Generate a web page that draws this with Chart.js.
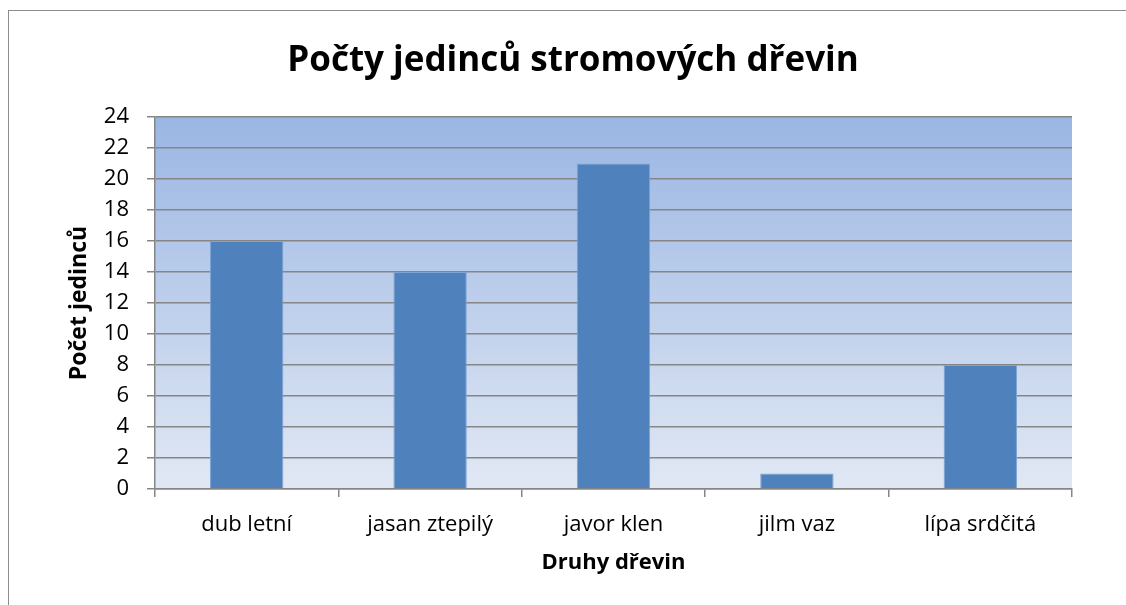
<!DOCTYPE html>
<html>
<head>
<meta charset="utf-8">
<title>Počty jedinců stromových dřevin</title>
<script src="https://cdn.jsdelivr.net/npm/chart.js@4"></script>
<style>
	html, body { margin: 0; padding: 0; background: #fff; overflow: hidden; }
	#wrap { position: relative; width: 1126px; height: 605px; overflow: hidden; }
	#frame { position: absolute; left: 8px; top: 10px; width: 1200px; height: 700px; border: 1px solid #8c8c8c; }
	#chart { position: absolute; left: 0; top: 0; }
</style>
</head>
<body>
<div id="wrap">
	<div id="frame"></div>
	<canvas id="chart" width="1126" height="605"></canvas>
</div>
<script>
const chartTitle = "Počty jedinců stromových dřevin";
const species = ["dub letní", "jasan ztepilý", "javor klen", "jilm vaz", "lípa srdčitá"];
const counts = [16, 14, 21, 1, 8];
const countTicks = [0, 2, 4, 6, 8, 10, 12, 14, 16, 18, 20, 22, 24];

const FONT = "'Open Sans', 'DejaVu Sans', sans-serif";
const GRID = "#868686";

// plot area background, light blue fading downwards
const plotBackground = {
	id: "plotBackground",
	beforeDraw(chart) {
		const { ctx, chartArea: a } = chart;
		const g = ctx.createLinearGradient(0, a.top, 0, a.bottom);
		g.addColorStop(0, "#9ab6e3");
		g.addColorStop(1, "#e1e8f4");
		ctx.save();
		ctx.fillStyle = g;
		ctx.fillRect(a.left, a.top, a.right - a.left, a.bottom - a.top);
		ctx.restore();
	}
};

// big title, centred on the outer frame rather than the plot
const frameTitle = {
	id: "frameTitle",
	afterDraw(chart) {
		const ctx = chart.ctx;
		ctx.save();
		ctx.font = "bold 35px " + FONT;
		ctx.fillStyle = "#000";
		ctx.textAlign = "center";
		ctx.textBaseline = "alphabetic";
		ctx.fillText(chartTitle, 573, 71);
		ctx.restore();
	}
};

new Chart(document.getElementById("chart"), {
	type: "bar",
	data: {
		labels: species,
		datasets: [{
			data: counts,
			backgroundColor: "#4f81bd",
			borderColor: "#7ea3d4",
			borderWidth: 1,
			barPercentage: 0.4,
			categoryPercentage: 1
		}]
	},
	options: {
		responsive: false,
		animation: false,
		devicePixelRatio: 1,
		layout: { padding: { left: 0, right: 54, top: 117, bottom: 0 } },
		plugins: {
			legend: { display: false },
			title: { display: false },
			tooltip: { enabled: false }
		},
		scales: {
			x: {
				grid: { offset: true, drawOnChartArea: false, drawTicks: true, tickLength: 8, color: GRID, lineWidth: 1.5 },
				border: { display: true, color: GRID, width: 1.5 },
				ticks: { color: "#000", font: { family: FONT, size: 22 }, padding: 15, maxRotation: 0 },
				title: {
					display: true,
					text: "Druhy dřevin",
					color: "#000",
					font: { family: FONT, size: 22, weight: "bold" },
					padding: { top: 0, bottom: 29 }
				},
				afterFit(scale) { scale.height = 116; }
			},
			y: {
				min: countTicks[0],
				max: countTicks[countTicks.length - 1],
				afterBuildTicks(scale) { scale.ticks = countTicks.map(v => ({ value: v })); },
				grid: { color: GRID, lineWidth: 1.5, drawTicks: true, tickLength: 8 },
				border: { display: true, color: GRID, width: 1.5 },
				ticks: { color: "#000", font: { family: FONT, size: 22 }, padding: 18 },
				title: {
					display: true,
					text: "Počet jedinců",
					color: "#000",
					font: { family: FONT, size: 23, weight: "bold" },
					padding: { top: 66, bottom: 0 }
				},
				afterFit(scale) { scale.width = 155; }
			}
		}
	},
	plugins: [plotBackground, frameTitle]
});
</script>
</body>
</html>
